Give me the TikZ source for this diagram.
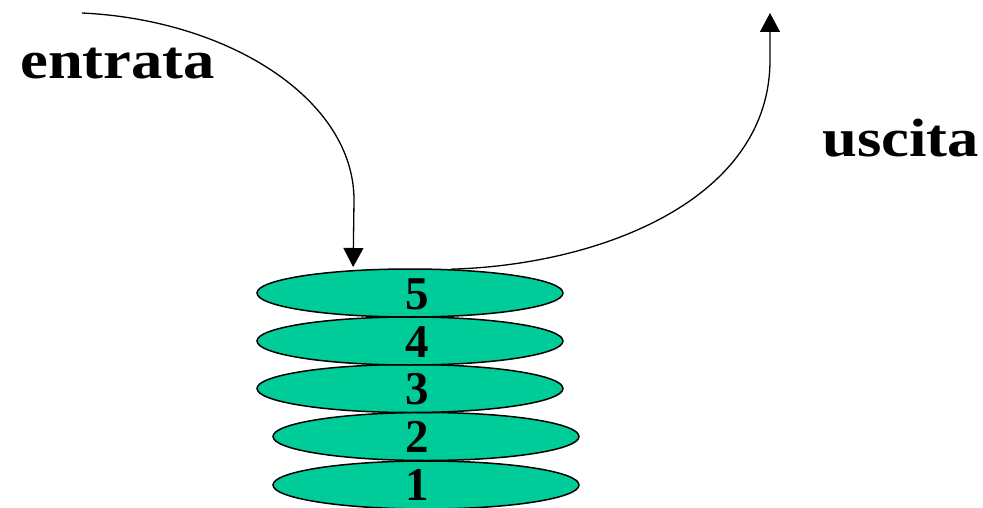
\documentclass[tikz,border=0pt]{standalone}
\usepackage{fontspec}
\setmainfont{Liberation Serif}
\usetikzlibrary{shapes.geometric,arrows.meta}
\definecolor{disk}{RGB}{0,204,153}
\tikzset{
  plate/.style={ellipse, draw=black, line width=1.5pt, fill=disk,
    minimum width=306pt, minimum height=48pt, inner sep=0pt},
  num/.style={font=\fontsize{47}{47}\selectfont\bfseries, inner sep=0pt, anchor=base},
  word/.style={font=\fontsize{54}{54}\selectfont\bfseries, inner sep=0pt, anchor=base west},
  flow/.style={line width=1.3pt, -{Triangle[length=19pt,width=20pt]}}
}
\begin{document}
\begin{tikzpicture}[x=1pt,y=-1pt]
  \useasboundingbox (0,0) rectangle (983,508);

  % the stack of plates, bottom first
  \node[plate] (e1) at (426,485) {};
  \node[plate] (e2) at (426,436.5) {};
  \node[plate] (e3) at (410,388.5) {};
  \node[plate] (e4) at (410,341) {};
  \node[plate] (e5) at (410,293) {};

  \node[num] (n1) at (417,500) {1};
  \node[num] (n2) at (417,452.5) {2};
  \node[num] (n3) at (417,404.5) {3};
  \node[num] (n4) at (417,357) {4};
  \node[num] (n5) at (417,309) {5};

  % labels
  \node[word, xscale=1.16, transform shape] (lin) at (20,79) {entrata};
  \node[word, xscale=1.16, transform shape] (lout) at (822,157) {uscita};

  % push and pop
  \coordinate (inStart) at (82,13);
  \coordinate (outEnd) at (770,13);
  \draw[flow, shorten >=3pt] (inStart) .. controls (230,20) and (354,100) .. (354,200) -- (e5.158);
  \draw[flow] (e5.30) .. controls (600,265) and (770,200) .. (770,60) -- (outEnd);
\end{tikzpicture}
\end{document}
